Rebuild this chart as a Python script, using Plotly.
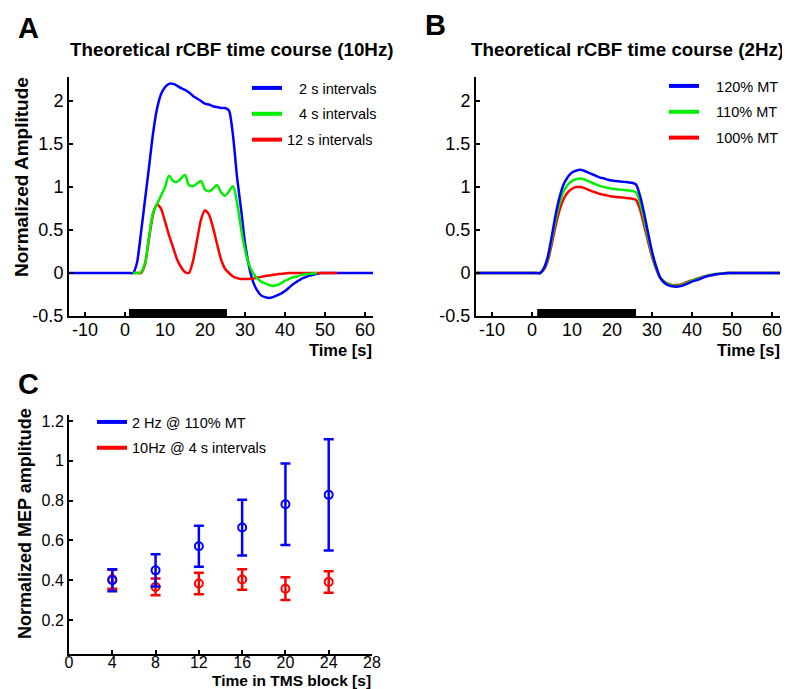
import plotly.graph_objects as go

# ---------------- Data ----------------
# Panel A: theoretical rCBF time course (10 Hz)
t_A_blue = list(range(-14, 63))
a_blue = [0]*16 + [0, 0.12, 0.47, 0.85, 1.23, 1.62, 1.91, 2.08, 2.16, 2.2,
                   2.2, 2.18, 2.15, 2.13, 2.1, 2.06, 2.03, 2.0, 1.97, 1.96,
                   1.94, 1.93, 1.92, 1.92, 1.89, 1.6, 1.12, 0.75, 0.35, 0.08,
                   -0.1, -0.2, -0.26, -0.28, -0.29, -0.28, -0.26, -0.24, -0.21, -0.17,
                   -0.13, -0.1, -0.07, -0.05, -0.03, -0.02, -0.01, 0] + [0]*13
t_A_red = list(range(2, 54))
a_red = [0, 0, 0, 0.1, 0.4, 0.68, 0.8, 0.75, 0.6, 0.44,
         0.3, 0.16, 0.07, 0.01, 0.0, 0.14, 0.38, 0.62, 0.73, 0.68,
         0.53, 0.34, 0.16, 0.05, 0.0, -0.04, -0.06, -0.07, -0.07, -0.07,
         -0.065, -0.055, -0.045, -0.035, -0.03, -0.02, -0.015, -0.01, -0.005, 0,
         0, 0, 0, 0, 0, 0, 0, 0, 0, 0, 0, 0]
t_A_green = list(range(2, 49))
a_green = [0, 0, 0.01, 0.12, 0.42, 0.7, 0.8, 0.9, 1.0, 1.13,
           1.07, 1.06, 1.1, 1.14, 1.02, 1.01, 1.04, 1.07, 0.97, 0.95,
           0.98, 1.02, 0.94, 0.9, 0.95, 1.01, 0.82, 0.52, 0.27, 0.1,
           0.0, -0.06, -0.1, -0.12, -0.14, -0.15, -0.14, -0.12, -0.09, -0.07,
           -0.05, -0.04, -0.025, -0.015, -0.01, -0.005, 0]
names_A = ["2 s intervals", "4 s intervals", "12 s intervals"]

# Panel B: theoretical rCBF time course (2 Hz)
t_B = list(range(-14, 63))
b_120 = [0]*17 + [0.06, 0.2, 0.44, 0.7, 0.9, 1.04, 1.12, 1.17, 1.19, 1.2,
                  1.19, 1.17, 1.15, 1.13, 1.11, 1.1, 1.085, 1.075, 1.07, 1.065,
                  1.06, 1.055, 1.05, 1.03, 0.9, 0.7, 0.47, 0.25, 0.08, -0.05,
                  -0.11, -0.14, -0.155, -0.16, -0.155, -0.14, -0.12, -0.1, -0.085, -0.07,
                  -0.05, -0.035, -0.025, -0.015, -0.01, -0.005] + [0]*14
b_110 = [0]*17 + [0.05, 0.18, 0.4, 0.64, 0.83, 0.96, 1.03, 1.07, 1.09, 1.1,
                  1.09, 1.07, 1.05, 1.03, 1.01, 1.0, 0.99, 0.98, 0.975, 0.97,
                  0.965, 0.96, 0.955, 0.94, 0.82, 0.63, 0.42, 0.22, 0.06, -0.05,
                  -0.1, -0.13, -0.145, -0.15, -0.145, -0.13, -0.11, -0.09, -0.075, -0.06,
                  -0.045, -0.03, -0.02, -0.012, -0.008, -0.004] + [0]*14
b_100 = [0]*17 + [0.04, 0.15, 0.35, 0.57, 0.75, 0.87, 0.94, 0.98, 1.0, 1.0,
                  0.99, 0.97, 0.95, 0.935, 0.92, 0.91, 0.9, 0.89, 0.885, 0.88,
                  0.875, 0.87, 0.865, 0.85, 0.74, 0.56, 0.37, 0.19, 0.05, -0.05,
                  -0.1, -0.125, -0.14, -0.14, -0.135, -0.12, -0.1, -0.085, -0.07, -0.055,
                  -0.04, -0.03, -0.02, -0.012, -0.007, -0.003] + [0]*14
names_B = ["120% MT", "110% MT", "100% MT"]

# Stimulation block (s)
stim_A = (1.0, 25.5)
stim_B = (1.3, 26.0)

# Panel C: MEP amplitudes
t_C = [4, 8, 12, 16, 20, 24]
mep_2hz = [0.40, 0.45, 0.571, 0.665, 0.782, 0.829]
mep_2hz_err = [0.055, 0.081, 0.103, 0.14, 0.205, 0.279]
mep_10hz = [0.405, 0.367, 0.384, 0.404, 0.358, 0.392]
mep_10hz_err = [0.048, 0.042, 0.054, 0.052, 0.057, 0.054]
names_C = ["2 Hz @ 110% MT", "10Hz @ 4 s intervals"]

BLUE, GREEN, RED = "#0000ff", "#00ee00", "#ff0000"
FONT = "Arial, Liberation Sans, sans-serif"

# The page body has an 8 px margin; the figure is sized to fill the rest of the window.
OFF = 8
FW, FH = 790 - OFF, 689 - OFF


def px(x):
    """page pixel x -> paper fraction"""
    return (x - OFF) / FW


def py(y):
    """page pixel y -> paper fraction"""
    return 1 - (y - OFF) / FH


fig = go.Figure()
lw = 2.5


def curve(x, y, color, xa, ya, smoothing=0.6):
    fig.add_trace(go.Scatter(x=x, y=y, mode="lines", showlegend=False, hoverinfo="x+y",
                             line=dict(color=color, width=lw, shape="spline", smoothing=smoothing),
                             xaxis=xa, yaxis=ya))


def legend_entry(name, color, legend, rank):
    # legend-only line sample (thicker, as in the original figure)
    fig.add_trace(go.Scatter(x=[None], y=[None], mode="lines", name=name,
                             line=dict(color=color, width=4), legend=legend,
                             legendgroup=f"{legend}{rank}", legendrank=rank,
                             xaxis="x", yaxis="y", hoverinfo="skip"))


# Panel A (drawing order blue, red, green)
curve(t_A_blue, a_blue, BLUE, "x", "y")
curve(t_A_red, a_red, RED, "x", "y")
curve(t_A_green, a_green, GREEN, "x", "y", smoothing=1.0)
legend_entry("\u2007 " + names_A[0], BLUE, "legend", 1)
legend_entry("\u2007 " + names_A[1], GREEN, "legend", 2)
legend_entry(names_A[2], RED, "legend", 3)

# Panel B (drawing order red, green, blue)
curve(t_B, b_100, RED, "x2", "y2")
curve(t_B, b_110, GREEN, "x2", "y2")
curve(t_B, b_120, BLUE, "x2", "y2")
legend_entry("\u2007 " + names_B[0], BLUE, "legend2", 1)
legend_entry("\u2007 " + names_B[1], GREEN, "legend2", 2)
legend_entry("\u2007 " + names_B[2], RED, "legend2", 3)

# Panel C
fig.add_trace(go.Scatter(x=t_C, y=mep_10hz, mode="markers", showlegend=False,
                         marker=dict(symbol="circle-open", size=8, color=RED, line=dict(width=2)),
                         error_y=dict(type="data", array=mep_10hz_err, color=RED, thickness=2.5, width=5),
                         xaxis="x3", yaxis="y3"))
fig.add_trace(go.Scatter(x=t_C, y=mep_2hz, mode="markers", showlegend=False,
                         marker=dict(symbol="circle-open", size=8, color=BLUE, line=dict(width=2)),
                         error_y=dict(type="data", array=mep_2hz_err, color=BLUE, thickness=2.5, width=5),
                         xaxis="x3", yaxis="y3"))
legend_entry(names_C[0], BLUE, "legend3", 1)
legend_entry(names_C[1], RED, "legend3", 2)

tickfont_big = dict(family=FONT, size=18, color="black")
tickfont_small = dict(family=FONT, size=16, color="black")
axis_common = dict(showline=True, linecolor="black", linewidth=2, ticks="inside",
                   ticklen=4, tickwidth=1.5, tickcolor="black", showgrid=False,
                   zeroline=False, mirror=False, automargin=False)

xA_dom = [px(69), px(373)]
xB_dom = [px(476), px(780)]
yAB_dom = [py(316), py(77)]
xC_dom = [px(69), px(372)]
yC_dom = [py(654), py(415)]

xt = [-10, 0, 10, 20, 30, 40, 50, 60]
yt = [-0.5, 0, 0.5, 1, 1.5, 2]
yt_text = ["-0.5", "0", "0.5", "1", "1.5", "2"]
xt_text = ["-10", "0", "10", "20", "30", "40", "50", "60"]

legend_common = dict(bgcolor="rgba(0,0,0,0)", borderwidth=0,
                     font=dict(family=FONT, size=14.5, color="black"),
                     tracegroupgap=4, itemclick=False, xanchor="left", yanchor="top")

fig.update_layout(
    width=FW, height=FH, margin=dict(l=0, r=0, t=0, b=0, autoexpand=False),
    paper_bgcolor="white", plot_bgcolor="white",
    font=dict(family=FONT, color="black"),
    xaxis=dict(domain=xA_dom, range=[-14, 62], tickvals=xt, ticktext=xt_text,
               tickfont=tickfont_big, anchor="y", ticklabelstandoff=-4, **axis_common),
    yaxis=dict(domain=yAB_dom, range=[-0.5, 2.28], tickvals=yt, ticktext=yt_text,
               tickfont=tickfont_big, anchor="x", **axis_common),
    xaxis2=dict(domain=xB_dom, range=[-14, 62], tickvals=xt, ticktext=xt_text,
                tickfont=tickfont_big, anchor="y2", ticklabelstandoff=-4, **axis_common),
    yaxis2=dict(domain=yAB_dom, range=[-0.5, 2.28], tickvals=yt, ticktext=yt_text,
                tickfont=tickfont_big, anchor="x2", **axis_common),
    xaxis3=dict(domain=xC_dom, range=[0, 28], tickvals=[0, 4, 8, 12, 16, 20, 24, 28],
                tickfont=tickfont_small, anchor="y3", ticklabelstandoff=-7, **axis_common),
    yaxis3=dict(domain=yC_dom, range=[0.03, 1.23], tickvals=[0.2, 0.4, 0.6, 0.8, 1.0, 1.2],
                ticktext=["0.2", "0.4", "0.6", "0.8", "1", "1.2"],
                tickfont=tickfont_small, anchor="x3", **axis_common),
    legend=dict(x=px(247), y=py(72), **legend_common),
    legend2=dict(x=px(664), y=py(70), **legend_common),
    legend3=dict(x=px(92), y=py(406), **legend_common),
    showlegend=True,
)

# Stimulation blocks (black bars on the time axis)
for xref, yref, (s0, s1) in [("x", "y", stim_A), ("x2", "y2", stim_B)]:
    fig.add_shape(type="rect", xref=xref, yref=yref, x0=s0, x1=s1, y0=-0.5, y1=-0.42,
                  fillcolor="black", line=dict(width=0), layer="above")


def ann(text, x, y, size, bold=True, xanchor="center", yanchor="middle", angle=0):
    fig.add_annotation(text=f"<b>{text}</b>" if bold else text, x=px(x), y=py(y),
                       xref="paper", yref="paper", showarrow=False,
                       xanchor=xanchor, yanchor=yanchor, textangle=angle,
                       font=dict(family=FONT, size=size, color="black"))


# Panel letters
ann("A", 16, 28, 29, xanchor="left")
ann("B", 423, 25, 29, xanchor="left")
ann("C", 16, 384, 29, xanchor="left")
# Titles
ann("Theoretical rCBF time course (10Hz)", 232, 49, 18.8)
ann("Theoretical rCBF time course (2Hz)", 627, 49, 18.8)
# Axis titles
ann("Normalized Amplitude", 21, 177, 19, angle=-90)
ann("Time [s]", 374, 350, 16.5, xanchor="right")
ann("Time [s]", 782, 350, 16.5, xanchor="right")
ann("Normalized MEP amplitude", 25, 524, 18, angle=-90)
ann("Time in TMS block [s]", 373, 680, 15.5, xanchor="right")

fig.write_html("out.html")
